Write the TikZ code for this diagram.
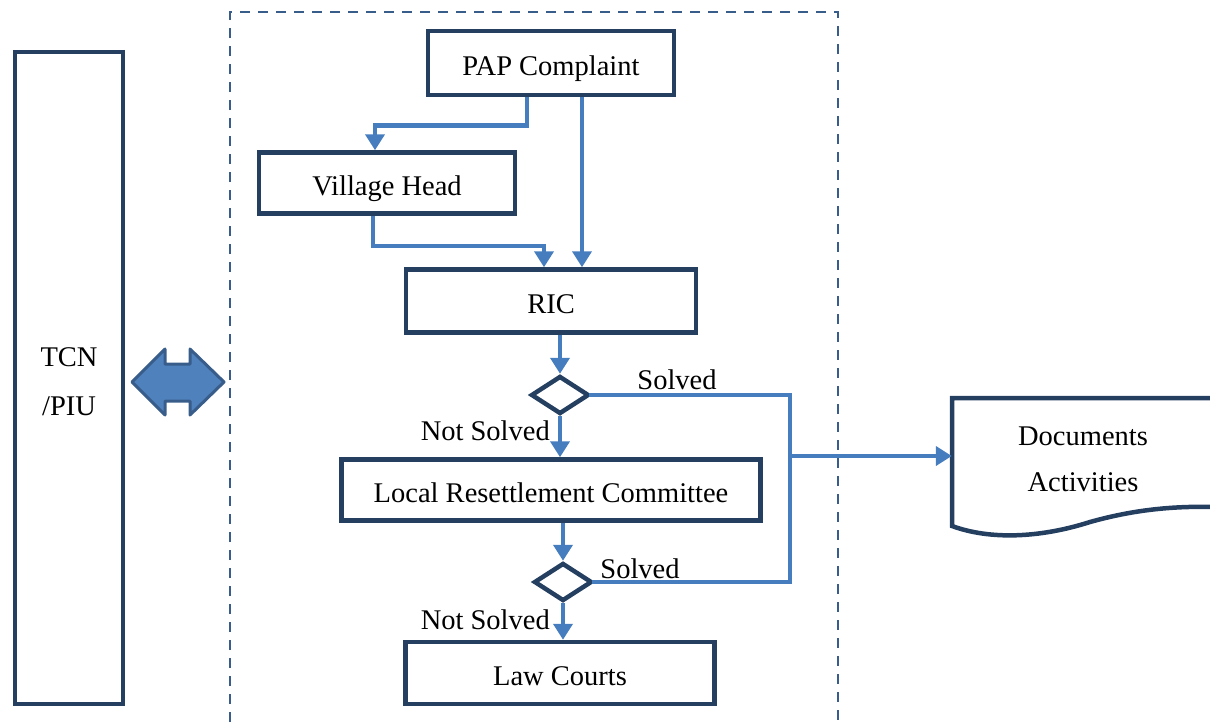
\documentclass[tikz,border=0pt]{standalone}
\usepackage{fontspec}
\setmainfont{Liberation Serif}
\usetikzlibrary{arrows.meta,shapes.geometric}
\definecolor{navy}{RGB}{36,63,96}
\definecolor{lineblue}{RGB}{70,125,190}
\definecolor{fillblue}{RGB}{79,129,189}
\definecolor{edgeblue}{RGB}{56,93,138}
\tikzset{
  box/.style={draw=navy, line width=4.5pt, fill=white, inner sep=0pt,
    text height=25pt, text depth=0pt,
    font=\fontsize{28.5}{34}\selectfont},
  decision/.style={diamond, draw=navy, line width=4.5pt, inner sep=0pt,
    minimum width=58pt, minimum height=38pt},
  link/.style={draw=lineblue, line width=4.5pt},
  flow/.style={link, -{Triangle[width=19pt,length=16pt]}},
  lbl/.style={font=\fontsize{28.5}{34}\selectfont, inner sep=0pt},
}
\begin{document}
\begin{tikzpicture}[x=1pt,y=-1pt]
\useasboundingbox (0,0) rectangle (1210,723);

% dashed frame round the complaint process
\draw[edgeblue, line width=2pt, dash pattern=on 10pt off 8pt]
  (230,740) -- (230,12) -- (838,12) -- (838,740);

% side box
\node[box, minimum width=108pt, minimum height=652pt] (tcn) at (69,378) {};
\node[lbl] (tcnA) at (69,357) {TCN};
\node[lbl] (tcnB) at (69,406) {/PIU};

% two-way link between the side box and the process
\draw[fill=fillblue, draw=edgeblue, line width=3pt, line join=round]
  (132,382) -- (165,349) -- (165,364) -- (190,364) -- (190,349) -- (224,382)
  -- (190,415) -- (190,401) -- (165,401) -- (165,415) -- cycle;

% process steps
\node[box, minimum width=246pt, minimum height=64pt] (pap) at (551,63) {PAP Complaint};
\node[box, minimum width=256pt, minimum height=61pt] (vh) at (387,183) {Village Head};
\node[box, minimum width=290pt, minimum height=63pt] (ric) at (551,301) {RIC};
\node[decision] (d1) at (560,395) {};
\node[box, minimum width=419pt, minimum height=61pt] (lrc) at (551,490) {Local Resettlement Committee};
\node[decision] (d2) at (563,582) {};
\node[box, minimum width=309pt, minimum height=62pt] (law) at (560,673) {Law Courts};

% documents
\node[lbl, minimum width=258pt, minimum height=116pt, align=center] (docs) at (1081,456) {};
\node[lbl] (docA) at (1083,436) {Documents};
\node[lbl] (docB) at (1083,482) {Activities};
\draw[navy, line width=4.5pt, line join=miter]
  (1220,398) -- (952,398) -- (952,526)
  .. controls (990,540) and (1040,538) .. (1090,522)
  .. controls (1140,508) and (1180,506) .. (1220,507);

% connectors
\draw[flow] ([xshift=-24pt]pap.south) -- ++(0,28) -| ([xshift=-12pt]vh.north);
\draw[flow] ([xshift=31pt]pap.south) -- ([xshift=31pt]ric.north);
\draw[flow] ([xshift=-14pt]vh.south) -- ++(0,30) -| ([xshift=-7pt]ric.north);
\draw[flow] (d1.north |- ric.south) -- (d1.north);
\draw[flow] (d1.south) -- (d1.south |- lrc.north);
\draw[flow] (d2.north |- lrc.south) -- (d2.north);
\draw[flow] (d2.south) -- (d2.south |- law.north);

\coordinate (bus) at (790,456);
\draw[link, line join=miter] ([xshift=-2pt]d1.east) -| (bus) |- ([xshift=-2pt]d2.east);
\draw[flow] (bus) -- (docs.west);

% branch labels
\node[lbl] (s1) at (677,380) {Solved};
\node[lbl] (s2) at (640,569) {Solved};
\node[lbl, anchor=east] (n1) at (550,431) {Not Solved};
\node[lbl, anchor=east] (n2) at (550,620) {Not Solved};
\end{tikzpicture}
\end{document}
